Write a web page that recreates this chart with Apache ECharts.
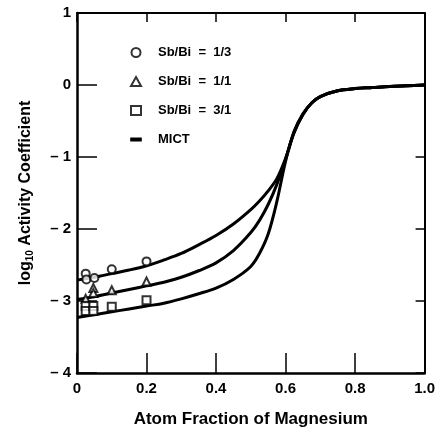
<!DOCTYPE html>
<html>
<head>
<meta charset="utf-8">
<script src="https://cdn.jsdelivr.net/npm/echarts@6/dist/echarts.min.js"></script>
<style>
html,body{margin:0;padding:0;background:#fff;}
#chart{width:438px;height:433px;}
</style>
</head>
<body>
<div id="chart"></div>
<script>
// ---- data ----
var curveX = [0, 0.05, 0.1, 0.15, 0.2, 0.25, 0.3, 0.35, 0.4, 0.45, 0.5, 0.525, 0.55, 0.575, 0.6, 0.625, 0.65, 0.675, 0.7, 0.75, 0.8, 0.85, 0.9, 0.95, 1.0];
var mict13 = [-2.71, -2.67, -2.62, -2.57, -2.51, -2.43, -2.34, -2.22, -2.09, -1.93, -1.73, -1.61, -1.47, -1.30, -1.02, -0.66, -0.41, -0.25, -0.16, -0.08, -0.05, -0.035, -0.02, -0.01, 0];
var mict11 = [-2.98, -2.94, -2.89, -2.84, -2.79, -2.74, -2.67, -2.58, -2.47, -2.30, -2.05, -1.88, -1.66, -1.38, -1.03, -0.65, -0.41, -0.25, -0.16, -0.08, -0.05, -0.035, -0.02, -0.01, 0];
var mict31 = [-3.23, -3.19, -3.15, -3.11, -3.07, -3.03, -2.97, -2.90, -2.82, -2.70, -2.52, -2.34, -2.07, -1.62, -1.06, -0.64, -0.40, -0.25, -0.16, -0.08, -0.05, -0.035, -0.02, -0.01, 0];

var pts13 = [[0.025, -2.62], [0.027, -2.70], [0.05, -2.68], [0.1, -2.56], [0.2, -2.45]];
var pts11 = [[0.025, -2.97], [0.047, -2.82], [0.047, -2.89], [0.1, -2.85], [0.2, -2.73]];
var pts31 = [[0.025, -3.07], [0.025, -3.14], [0.047, -3.07], [0.047, -3.14], [0.1, -3.08], [0.2, -2.99]];

var seriesNames = ['Sb/Bi  =  1/3', 'Sb/Bi  =  1/1', 'Sb/Bi  =  3/1', 'MICT'];
var xTicks = [0, 0.2, 0.4, 0.6, 0.8, 1.0];
var yTicks = [-4, -3, -2, -1, 0, 1];

function pairs(xs, ys) { return xs.map(function (x, i) { return [x, ys[i]]; }); }

var FONT = '"Liberation Sans", Arial, Helvetica, sans-serif';
var chart = echarts.init(document.getElementById('chart'), null, {renderer: 'canvas'});

function lineSeries(ys) {
  return {
    name: 'MICT', type: 'line', data: pairs(curveX, ys), symbol: 'none', smooth: 0.35,
    lineStyle: {color: '#000', width: 3}, itemStyle: {color: '#000'}, z: 2
  };
}
function scatterSeries(name, data, sym) {
  return {
    name: name, type: 'scatter', data: data, symbol: sym, symbolSize: 8,
    itemStyle: {color: '#000', borderColor: '#000', borderWidth: 1.6}, z: 3
  };
}

var option = {
  backgroundColor: '#fff',
  animation: false,
  textStyle: {fontFamily: FONT},
  grid: {left: 77, right: 13, top: 13, bottom: 58},
  legend: {
    orient: 'vertical', left: 125, top: 41,
    itemWidth: 10, itemHeight: 9, itemGap: 16,
    textStyle: {fontFamily: FONT, fontWeight: 'bold', fontSize: 13, color: '#000', padding: [0, 0, 0, 12]},
    data: [
      {name: seriesNames[0], icon: 'emptyCircle'},
      {name: seriesNames[1], icon: 'emptyTriangle'},
      {name: seriesNames[2], icon: 'emptyRect'},
      {name: seriesNames[3], icon: 'path://M0,0 L12,0 L12,3 L0,3 Z'}
    ],
    itemStyle: {borderWidth: 1.6, borderColor: '#000', color: '#000'},
    selectedMode: false
  },
  xAxis: [{
    type: 'value', position: 'bottom', min: 0, max: 1, interval: 0.2,
    name: 'Atom Fraction of Magnesium', nameLocation: 'middle', nameGap: 38,
    nameTextStyle: {fontFamily: FONT, fontWeight: 'bold', fontSize: 17, color: '#000'},
    axisLine: {show: true, onZero: false, lineStyle: {color: '#000', width: 2.5}},
    axisTick: {show: true, inside: true, length: 20, lineStyle: {color: '#000', width: 1.5}},
    axisLabel: {fontFamily: FONT, fontWeight: 'bold', fontSize: 15, color: '#000', margin: 8,
      formatter: function (v) { return v === 0 ? '0' : v.toFixed(1); }},
    splitLine: {show: false}
  }, {
    type: 'value', position: 'top', min: 0, max: 1, interval: 0.2,
    axisLine: {show: true, onZero: false, lineStyle: {color: '#000', width: 2}},
    axisTick: {show: true, inside: true, length: 9, lineStyle: {color: '#000', width: 1.5}},
    axisLabel: {show: false}, splitLine: {show: false}
  }],
  yAxis: [{
    type: 'value', position: 'left', min: -4, max: 1, interval: 1,
    name: '{b|log}{s|10}{b| Activity Coefficient}', nameLocation: 'middle', nameGap: 42,
    nameTextStyle: {
      color: '#000',
      rich: {
        b: {fontFamily: FONT, fontWeight: 'bold', fontSize: 16, color: '#000', lineHeight: 18},
        s: {fontFamily: FONT, fontWeight: 'bold', fontSize: 10, color: '#000', lineHeight: 18, verticalAlign: 'bottom', padding: [8, 0, 0, 0]}
      }
    },
    axisLine: {show: true, onZero: false, lineStyle: {color: '#000', width: 2.5}},
    axisTick: {show: true, inside: true, length: 20, lineStyle: {color: '#000', width: 1.5}},
    axisLabel: {fontFamily: FONT, fontWeight: 'bold', fontSize: 15, color: '#000', margin: 6,
      formatter: function (v) { return v < 0 ? '\u2013 ' + Math.abs(v) : String(v); }},
    splitLine: {show: false}
  }, {
    type: 'value', position: 'right', min: -4, max: 1, interval: 1,
    axisLine: {show: true, onZero: false, lineStyle: {color: '#000', width: 2}},
    axisTick: {show: true, inside: true, length: 9, lineStyle: {color: '#000', width: 1.5}},
    axisLabel: {show: false}, splitLine: {show: false}
  }],
  series: [
    scatterSeries(seriesNames[0], pts13, 'emptyCircle'),
    scatterSeries(seriesNames[1], pts11, 'emptyTriangle'),
    scatterSeries(seriesNames[2], pts31, 'emptyRect'),
    lineSeries(mict13),
    lineSeries(mict11),
    lineSeries(mict31)
  ]
};
chart.setOption(option);
</script>
</body>
</html>
